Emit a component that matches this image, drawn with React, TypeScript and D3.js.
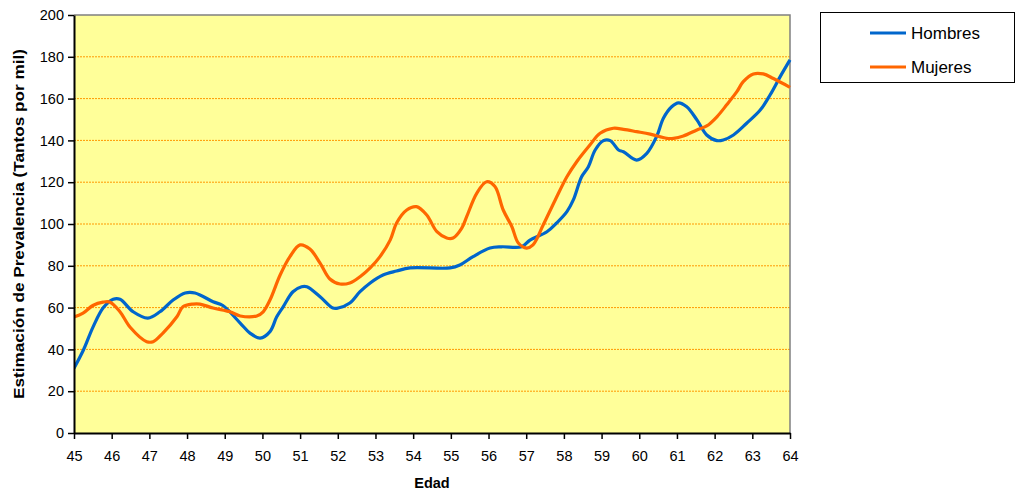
import React, { useEffect, useRef } from "react";
import * as d3 from "d3";

// edad, tantos por mil
const hombres: [number, number][] = [
  [45.0, 31], [45.25, 39.7], [45.51, 50.9], [45.78, 60], [46.04, 64], [46.22, 64],
  [46.57, 58], [46.96, 55], [47.28, 58], [47.63, 63.6], [47.95, 67], [48.21, 67],
  [48.69, 62.8], [48.95, 61], [49.41, 52.6], [49.67, 47.8], [49.94, 45.4], [50.2, 48.5],
  [50.38, 55.6], [50.55, 60.4], [50.81, 67.6], [51.04, 70], [51.18, 70], [51.53, 65.2],
  [51.87, 59.8], [52.01, 59.8], [52.32, 62.2], [52.59, 67.6], [52.86, 71.8], [53.2, 75.6],
  [53.56, 77.5], [53.92, 79], [54.98, 79], [55.24, 80.4], [55.59, 84.4], [56.04, 88.5],
  [56.35, 89.1], [56.88, 89.1], [57.1, 92.3], [57.55, 96.3], [57.81, 100.5], [58.08, 105.9],
  [58.25, 111.5], [58.47, 122.6], [58.65, 127.4], [58.83, 135.4], [59.05, 139.9], [59.23, 139.9],
  [59.45, 135.4], [59.58, 134.6], [59.93, 130.6], [60.2, 133.8], [60.46, 141.8], [60.64, 150.6],
  [60.86, 156.1], [61.04, 158], [61.26, 156.1], [61.53, 149.8], [61.79, 142.6], [62.06, 139.9],
  [62.23, 140.2], [62.5, 142.6], [62.85, 148.2], [63.21, 154.5], [63.47, 161.7], [63.74, 170.5],
  [64.0, 178.5],
];

const mujeres: [number, number][] = [
  [45.0, 55.5], [45.24, 57.3], [45.5, 61], [45.77, 62.6], [45.96, 62.6], [46.22, 58],
  [46.49, 50.6], [46.93, 43.7], [47.1, 43.7], [47.36, 47.8], [47.73, 55.6], [47.89, 60.4],
  [48.16, 61.7], [48.34, 61.7], [48.69, 59.8], [49.14, 58], [49.41, 56], [49.85, 56],
  [50.02, 58], [50.2, 63.6], [50.47, 75.6], [50.73, 84.4], [51.0, 90], [51.26, 88],
  [51.53, 81.3], [51.79, 73.7], [52.06, 71.3], [52.32, 71.8], [52.59, 74.8], [52.86, 79],
  [53.12, 84.4], [53.39, 92.3], [53.56, 100.5], [53.83, 106.7], [54.09, 108.3], [54.36, 104.3],
  [54.63, 96.3], [54.89, 93.3], [55.06, 93.3], [55.29, 98], [55.42, 103.5], [55.69, 114.8],
  [55.95, 120.2], [56.17, 117.9], [56.39, 106.7], [56.62, 98.7], [56.79, 90.9], [57.01, 88.5],
  [57.18, 90], [57.45, 99.5], [57.77, 111.5], [58.08, 122.6], [58.34, 129.8], [58.69, 137.8],
  [58.96, 143.4], [59.31, 145.8], [59.58, 145.3], [59.93, 144.2], [60.29, 143], [60.73, 141],
  [60.91, 141], [61.17, 142.1], [61.53, 145], [61.79, 146.9], [62.06, 151.3], [62.32, 157],
  [62.59, 163.3], [62.76, 168.1], [63.03, 171.8], [63.29, 171.8], [63.56, 169.6], [64.0, 165.4],
];

const xTicks = d3.range(45, 65);
const yTicks = d3.range(0, 201, 20);
const series = [
  { name: "Hombres", data: hombres, color: "#0066CC" },
  { name: "Mujeres", data: mujeres, color: "#FF6600" },
];

const App = () => {
  const ref = useRef<SVGSVGElement | null>(null);

  useEffect(() => {
    const svg = d3.select(ref.current);
    svg.selectAll("*").remove();
    const left = 74, right = 790, top = 15, bottom = 433;
    const font = "'Liberation Sans', Arial, sans-serif";

    const x = d3.scaleLinear().domain([45, 64]).range([left, right]);
    const y = d3.scaleLinear().domain([0, 200]).range([bottom, top]);

    svg.append("rect")
      .attr("x", left).attr("y", top)
      .attr("width", right - left).attr("height", bottom - top)
      .attr("fill", "#FFFF99");

    // grid
    svg.append("g").selectAll("line")
      .data(yTicks.filter((d) => d > 0 && d < 200))
      .join("line")
      .attr("x1", left).attr("x2", right)
      .attr("y1", (d) => y(d)).attr("y2", (d) => y(d))
      .attr("stroke", "#FF9900").attr("stroke-width", 1)
      .attr("stroke-dasharray", "2,1");

    // top / right border
    svg.append("path")
      .attr("d", `M${left},${top}H${right}V${bottom}`)
      .attr("fill", "none").attr("stroke", "#808080").attr("stroke-width", 1.5);

    const line = d3.line<[number, number]>()
      .x((d) => x(d[0])).y((d) => y(d[1]))
      .curve(d3.curveCatmullRom.alpha(0.5));

    const clip = svg.append("clipPath").attr("id", "plot-clip");
    clip.append("rect").attr("x", left).attr("y", top).attr("width", right - left + 2).attr("height", bottom - top);

    svg.append("g").attr("clip-path", "url(#plot-clip)")
      .selectAll("path")
      .data(series)
      .join("path")
      .attr("d", (s) => line(s.data))
      .attr("fill", "none")
      .attr("stroke", (s) => s.color)
      .attr("stroke-width", 3.2)
      .attr("stroke-linejoin", "round");

    // axes
    const yAxis = svg.append("g").attr("transform", `translate(${left},0)`)
      .call(d3.axisLeft(y).tickValues(yTicks).tickSize(6).tickSizeOuter(0).tickPadding(4));
    const xAxis = svg.append("g").attr("transform", `translate(0,${bottom})`)
      .call(d3.axisBottom(x).tickValues(xTicks).tickSize(6).tickSizeOuter(0).tickPadding(12));
    [yAxis, xAxis].forEach((a) => {
      a.select(".domain").attr("stroke", "#000").attr("stroke-width", 2);
      a.selectAll(".tick line").attr("stroke", "#000").attr("stroke-width", 1.5);
      a.selectAll(".tick text").attr("fill", "#000").style("font-family", font).style("font-size", "14.5px");
    });

    svg.append("text")
      .attr("x", (left + right) / 2).attr("y", 488)
      .attr("text-anchor", "middle")
      .style("font-family", font).style("font-size", "14.5px").style("font-weight", "bold")
      .text("Edad");

    svg.append("text")
      .attr("transform", `translate(24,224) rotate(-90)`)
      .attr("text-anchor", "middle")
      .attr("textLength", 350).attr("lengthAdjust", "spacingAndGlyphs")
      .style("font-family", font).style("font-size", "15px").style("font-weight", "bold")
      .text("Estimación de Prevalencia (Tantos por mil)");

    // legend
    const lg = svg.append("g");
    lg.append("rect")
      .attr("x", 820.5).attr("y", 12.5).attr("width", 194).attr("height", 70)
      .attr("fill", "#fff").attr("stroke", "#000").attr("stroke-width", 1);
    series.forEach((s, i) => {
      const ly = 33 + i * 34;
      lg.append("line")
        .attr("x1", 870).attr("x2", 906).attr("y1", ly).attr("y2", ly)
        .attr("stroke", s.color).attr("stroke-width", 3.2);
      lg.append("text")
        .attr("x", 911).attr("y", ly + 6)
        .style("font-family", font).style("font-size", "17px")
        .text(s.name);
    });
  }, []);

  return (
    <svg ref={ref} width={1016} height={490}
      style={{ position: "absolute", left: 0, top: 0, background: "#fff" }} />
  );
};

export default App;
